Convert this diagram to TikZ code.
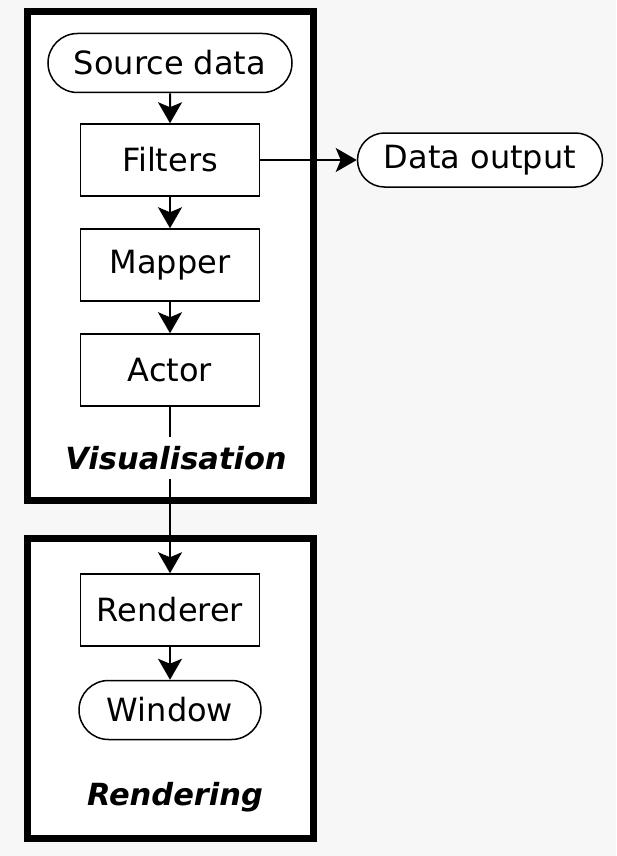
\documentclass[tikz,border=0pt]{standalone}
\usepackage{fontspec}
\setmainfont{DejaVu Sans}
\usetikzlibrary{arrows.meta, positioning, shapes.misc}

\definecolor{pagegray}{HTML}{F7F7F7}

\begin{document}
\begin{tikzpicture}[x=1pt, y=-1pt, >={Stealth[length=21pt, width=24pt, inset=5pt]},
    font=\fontsize{32}{38}\selectfont,
    frame/.style={draw, line width=7pt, fill=white},
    terminal/.style={rounded rectangle, draw, line width=1.5pt, fill=white, inner sep=0pt, minimum height=59pt},
    stage/.style={rectangle, draw, line width=1.5pt, fill=white, inner sep=0pt, minimum width=179pt, minimum height=72pt},
    caption/.style={font=\fontsize{30.5}{36}\selectfont\bfseries\itshape, fill=white, inner sep=2pt, minimum height=42pt},
    link/.style={->, line width=2pt}]
  \fill[pagegray] (0,0) rectangle (616,856);
  \useasboundingbox (0,0) rectangle (616,856);

  % the two frames
  \draw[frame] (27.5,11.5) rectangle (313.5,500);
  \draw[frame] (27.5,538.5) rectangle (313.5,838.5);

  % visualisation pipeline
  \node[terminal, minimum width=244pt] (source) at (170,63) {Source data};
  \node[stage] (filters) at (170,160) {Filters};
  \node[stage] (mapper) at (170,265) {Mapper};
  \node[stage] (actor) at (170,370) {Actor};
  \node[terminal, minimum width=245pt, minimum height=54pt] (output) at (480,160) {Data output};

  % rendering
  \node[stage] (renderer) at (170,610) {Renderer};
  \node[terminal, minimum width=182pt] (window) at (170,710) {Window};

  \draw[link] (source) -- (filters);
  \draw[link] (filters) -- (mapper);
  \draw[link] (mapper) -- (actor);
  \draw[link] (filters) -- (output);
  \draw[link] (actor) -- (renderer);
  \draw[link] (renderer) -- (window);

  \node[caption] (vislabel) at (176,458) {Visualisation};
  \node[caption] (renlabel) at (175,797) {Rendering};
\end{tikzpicture}
\end{document}
